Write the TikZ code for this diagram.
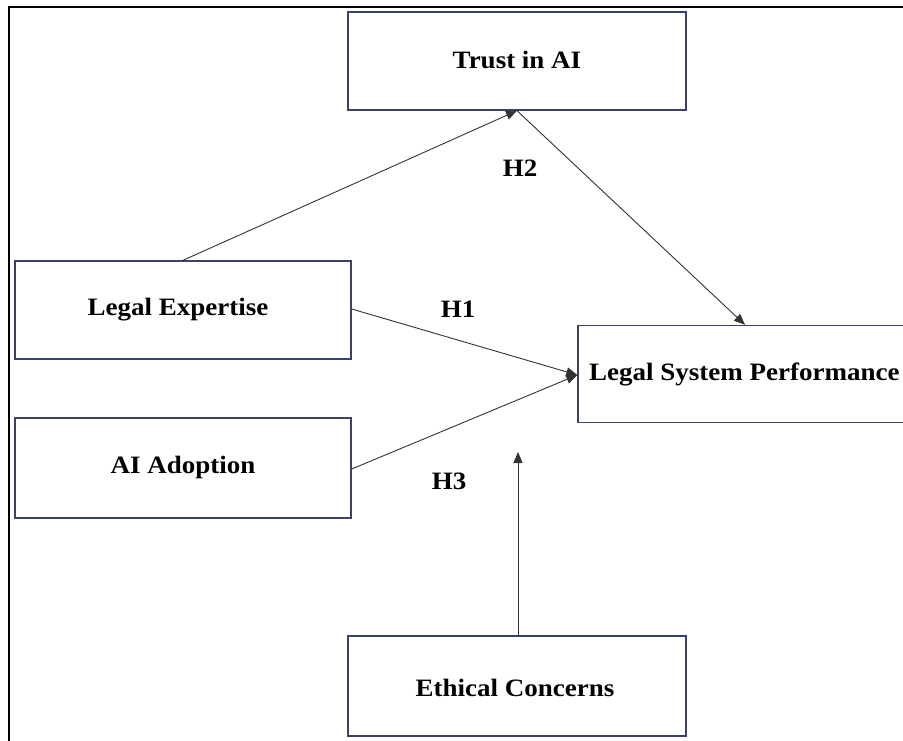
\documentclass[tikz,border=0pt]{standalone}
\usepackage{fontspec}
\setmainfont[FakeStretch=1.08]{Liberation Serif}
\usetikzlibrary{arrows.meta}
\definecolor{boxline}{HTML}{3A4068}
\definecolor{arrline}{HTML}{333333}
\begin{document}
\begin{tikzpicture}[x=1pt,y=-1pt,
  vbox/.style={draw=boxline,line width=1.4pt,rectangle,inner sep=0pt},
  lbl/.style={font=\fontsize{25}{30}\selectfont\bfseries,inner sep=0pt},
  conn/.style={draw=arrline,line width=0.9pt,-{Triangle[length=11pt,width=9pt]}}]
\useasboundingbox (0,0) rectangle (903,741);
\fill[white] (0,0) rectangle (903,741);
% outer frame
\draw[line width=1.6pt,black] (9,741) -- (9,7) -- (903,7);
% boxes
\node[vbox,minimum width=338pt,minimum height=98pt] (trust) at (517,61) {};
\node[vbox,minimum width=336pt,minimum height=98pt] (lexp) at (183,310) {};
\node[vbox,minimum width=336pt,minimum height=100pt] (aiad) at (183,468) {};
\node[vbox,minimum width=342pt,minimum height=97pt] (lsp) at (749,374) {};
\node[vbox,minimum width=338pt,minimum height=100pt] (ethc) at (517,686) {};
% texts
\node[lbl] (ttrust) at (517,60) {Trust in AI};
\node[lbl] (tlexp) at (178,310) {Legal Expertise};
\node[lbl] (taiad) at (183,467) {AI Adoption};
\node[lbl,anchor=west] (tlsp) at (589,374) {Legal System Performance};
\node[lbl] (tethc) at (515,688) {Ethical Concerns};
% hypothesis labels
\node[lbl] (h2) at (520,168) {H2};
\node[lbl] (h1) at (458,309) {H1};
\node[lbl] (h3) at (449,481) {H3};
% connectors
\draw[conn] (lexp.north) -- (trust.south);
\draw[conn] (trust.south) -- ([xshift=-4pt]lsp.north);
\draw[conn] ([yshift=1pt]lexp.east) -- ([yshift=-1pt]lsp.west);
\draw[conn] ([yshift=-1pt]aiad.east) -- ([yshift=-1pt]lsp.west);
\coordinate (etop) at (518,452);
\draw[conn] ([xshift=1pt]ethc.north) -- (etop);
\end{tikzpicture}
\end{document}
